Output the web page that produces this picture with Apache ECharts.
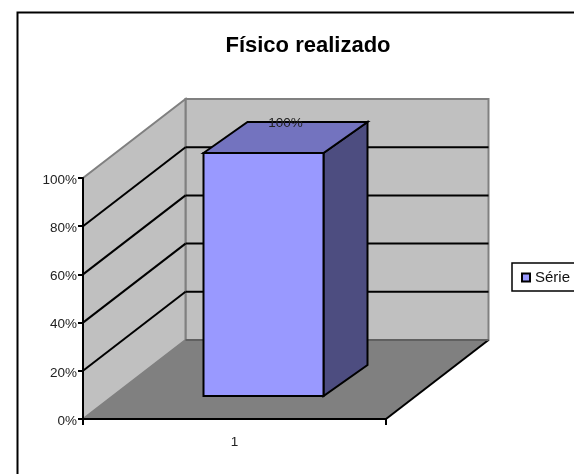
<!DOCTYPE html>
<html><head><meta charset="utf-8">
<style>html,body{margin:0;padding:0;background:#fff;overflow:hidden}#c{width:574px;height:474px}</style>
<script src="https://cdn.jsdelivr.net/npm/echarts@6/dist/echarts.min.js"></script>
</head><body><div id="c"></div>
<script>
const categories = ['1'];
const seriesName = 'Série 1';
const seriesValues = [1];
const yTicks = [0, 0.2, 0.4, 0.6, 0.8, 1];
const titleText = 'Físico realizado';

const FONT = '"Liberation Sans", Arial, sans-serif';
const WALL_DX = 102.5, WALL_DY = -79;
const BAR_OFF_DX = 29, BAR_OFF_DY = -23, BAR_TOP_EXTRA = -2;
const BAR_DX = 44, BAR_DY = -31;
const BAR_RATIO = 120 / 303;
const LW = 2;

function shift(p, dx, dy) { return [p[0] + dx, p[1] + dy]; }
function poly(points, fill, stroke, lw, z2) {
  return { type: 'polygon', z2: z2 || 0, shape: { points },
    style: { fill, stroke: stroke || null, lineWidth: lw || 0, lineJoin: 'miter' } };
}
function line(a, b, stroke, z2) {
  return { type: 'polyline', z2: z2 || 0, shape: { points: [a, b] },
    style: { fill: null, stroke, lineWidth: LW } };
}

function renderWalls(params, api) {
  const band = api.size([1, 0])[0];
  const c0 = api.coord([0, 0]), c1 = api.coord([0, 1]);
  const fl = [c0[0] - band / 2, c0[1]], fr = [c0[0] + band / 2, c0[1]];
  const tl = [c1[0] - band / 2, c1[1]];
  const bl = shift(fl, WALL_DX, WALL_DY), br = shift(fr, WALL_DX, WALL_DY);
  const btl = shift(tl, WALL_DX, WALL_DY), btr = [br[0], btl[1]];
  const children = [
    poly([btl, btr, br, bl], '#c0c0c0', '#808080', LW, 1),
    poly([tl, btl, bl, fl], '#c0c0c0', '#808080', LW, 1),
    poly([fl, fr, br, bl], '#808080', null, 0, 2),
    line(fr, br, '#000', 3),
    line(bl, br, '#606060', 3)
  ];
  yTicks.slice(1, -1).forEach(v => {
    const p = [fl[0], api.coord([0, v])[1]];
    const q = shift(p, WALL_DX, WALL_DY);
    children.push(line(p, q, '#000', 3));
    children.push(line(q, [br[0], q[1]], '#000', 3));
  });
  return { type: 'group', children };
}

function renderBar(params, api) {
  const band = api.size([1, 0])[0];
  const w = band * BAR_RATIO;
  const base = api.coord([api.value(0), 0]);
  const top = api.coord([api.value(0), api.value(1)]);
  const x0 = base[0] - w / 2 + BAR_OFF_DX, x1 = base[0] + w / 2 + BAR_OFF_DX;
  const yb = base[1] + BAR_OFF_DY, yt = top[1] + BAR_OFF_DY + BAR_TOP_EXTRA;
  const fbl = [x0, yb], fbr = [x1, yb], ftl = [x0, yt], ftr = [x1, yt];
  const bbr = shift(fbr, BAR_DX, BAR_DY), btr = shift(ftr, BAR_DX, BAR_DY), btl = shift(ftl, BAR_DX, BAR_DY);
  return { type: 'group', children: [
    poly([ftr, btr, bbr, fbr], '#4d4d80', '#000', LW, 1),
    poly([ftl, btl, btr, ftr], '#7373bf', '#000', LW, 1),
    poly([fbl, fbr, ftr, ftl], '#9999ff', '#000', LW, 2),
    { type: 'text', z2: 5, style: {
        x: (x0 + x1) / 2 + BAR_DX / 2, y: yt + BAR_DY + 1,
        text: Math.round(api.value(1) * 100) + '%',
        font: '13.5px ' + FONT, fill: '#222', align: 'center', verticalAlign: 'middle' } }
  ] };
}

const chart = echarts.init(document.getElementById('c'), null, { renderer: 'canvas', width: 574, height: 474 });
chart.setOption({
  animation: false,
  backgroundColor: '#fff',
  title: { text: titleText, left: 303, top: 29.5, textAlign: 'center',
    textStyle: { fontFamily: FONT, fontSize: 22, fontWeight: 'bold', color: '#000' } },
  grid: { left: 83, top: 178, width: 303, height: 241 },
  legend: {
    left: 512, top: 263, orient: 'vertical',
    data: [{ name: seriesName, icon: 'rect', itemStyle: { color: '#9999ff', borderColor: '#000', borderWidth: 2 } }],
    itemWidth: 8, itemHeight: 8, itemGap: 0, padding: [7, 30, 6, 9],
    backgroundColor: '#fff', borderColor: '#000', borderWidth: 1.5,
    textStyle: { fontFamily: FONT, fontSize: 15, color: '#111', padding: [0, 0, 0, 0] }
  },
  graphic: [{ type: 'polyline', silent: true, z: 0,
    shape: { points: [[17.5, 480], [17.5, 12.5], [580, 12.5]] },
    style: { fill: null, stroke: '#000', lineWidth: 2 } }],
  xAxis: { type: 'category', data: categories, z: 6,
    axisLine: { show: true, lineStyle: { color: '#000', width: 2 } },
    axisTick: { show: true, alignWithLabel: false, length: 6, lineStyle: { color: '#000', width: 2 } },
    axisLabel: { margin: 16, fontFamily: FONT, fontSize: 13.5, color: '#222' },
    splitLine: { show: false } },
  yAxis: { type: 'value', min: 0, max: 1, interval: 0.2, z: 6,
    axisLine: { show: true, lineStyle: { color: '#000', width: 2 } },
    axisTick: { show: true, length: 5, lineStyle: { color: '#000', width: 2 } },
    axisLabel: { margin: 6, fontFamily: FONT, fontSize: 13.5, color: '#222',
      verticalAlign: 'middle', lineHeight: 14,
      formatter: v => '{a|' + Math.round(v * 100) + '%}',
      rich: { a: { fontFamily: FONT, fontSize: 13.5, color: '#222', lineHeight: 14, padding: [4, 0, 0, 0] } } },
    splitLine: { show: false } },
  series: [
    { type: 'custom', name: 'walls', silent: true, z: 1, renderItem: renderWalls, data: [[0, 0]], encode: { x: 0, y: 1 } },
    { type: 'custom', name: seriesName, z: 2, renderItem: renderBar,
      itemStyle: { color: '#9999ff' },
      data: categories.map((c, i) => [i, seriesValues[i]]), encode: { x: 0, y: 1 } }
  ]
});
</script></body></html>
